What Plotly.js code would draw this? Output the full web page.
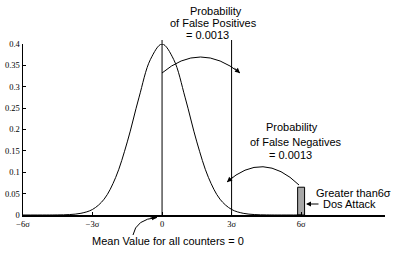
<!DOCTYPE html>
<html>
<head>
<meta charset="utf-8">
<script src="https://cdn.plot.ly/plotly-3.0.1.min.js"></script>
<style>html,body{margin:0;padding:0;background:#fff;}#chart{width:401px;height:255px;}</style>
</head>
<body>
<div id="chart"></div>
<script>
// ---- data ----
const curveX = [-6, -5, -4.5, -4, -3.5, -3, -2.5, -2, -1.5, -1, -0.5, 0, 0.5, 1, 1.5, 2, 2.5, 3, 3.5, 4, 4.5, 5, 6];
const curveY = [0, 0, 0.0002, 0.001, 0.004, 0.013, 0.037, 0.088, 0.171, 0.274, 0.364, 0.4, 0.364, 0.274, 0.171, 0.088, 0.037, 0.013, 0.004, 0.001, 0.0002, 0, 0];
const barX = [6];
const barY = [0.065];
const markerLines = [0, 3];           // vertical lines at mean and 3 sigma
const xTickVals = [-6, -3, 0, 3, 6];
const xTickText = ['\u22126\u03c3', '\u22123\u03c3', '0', '3\u03c3', '6\u03c3'];
const yTickVals = [0, 0.05, 0.1, 0.15, 0.2, 0.25, 0.3, 0.35, 0.4];
const yTickText = ['0', '0.05', '0.1', '0.15', '0.2', '0.25', '0.3', '0.35', '0.4'];

// ---- layout geometry (pixels) ----
const W = 401, H = 255, ML = 23, MR = 16, MT = 44, MB = 40;
const PW = W - ML - MR, PH = H - MT - MB;
const px = v => (v - ML) / PW;             // pixel x -> paper
const py = v => (H - MB - v) / PH;         // pixel y -> paper

const sans = {family: 'Liberation Sans, Arial, sans-serif', size: 11, color: '#000'};
const serif = {family: 'Liberation Serif, Times New Roman, serif', size: 8.5, color: '#000'};

function txt(t, x, y, xanchor) {
  return {text: t, xref: 'paper', yref: 'paper', x: px(x), y: py(y), xanchor: xanchor || 'center',
          yanchor: 'middle', showarrow: false, font: sans};
}
function head(x, y, dx, dy) {
  return {text: '', xref: 'paper', yref: 'paper', x: px(x), y: py(y), ax: dx, ay: dy,
          showarrow: true, arrowhead: 2, arrowsize: 1, arrowwidth: 1, arrowcolor: '#000', standoff: 0};
}
function curve(x0, y0, cx, cy, x1, y1) {
  return {type: 'path', xref: 'paper', yref: 'paper',
          path: 'M' + px(x0) + ',' + py(y0) + ' Q' + px(cx) + ',' + py(cy) + ' ' + px(x1) + ',' + py(y1),
          line: {color: '#000', width: 1}};
}

const traces = [
  {x: curveX, y: curveY, type: 'scatter', mode: 'lines', line: {color: '#000', width: 1, shape: 'spline'},
   cliponaxis: false, hoverinfo: 'skip'},
  {x: barX, y: barY, type: 'bar', width: 0.3, marker: {color: '#a8a8a8', line: {color: '#000', width: 1}},
   cliponaxis: false, hoverinfo: 'skip'}
];

const shapes = markerLines.map(v => ({type: 'line', xref: 'x', yref: 'paper', x0: v, x1: v, y0: 0, y1: py(40),
  line: {color: '#000', width: 1}}));
shapes.push(curve(162, 73, 200, 41, 240, 73));
shapes.push(curve(299, 185, 263, 150, 227, 182));
shapes.push(curve(133, 235, 136, 219, 157, 217.5));

const annotations = [
  txt('Probability', 216, 11),
  txt('of False Positives', 213, 23.5),
  txt('= 0.0013', 207, 35),
  txt('Probability', 292, 127),
  txt('of False Negatives', 296, 141.5),
  txt('= 0.0013', 290, 155),
  txt('Greater than6\u03c3', 314, 193, 'left'),
  txt('Dos Attack', 321, 204, 'left'),
  txt('Mean Value for all counters = 0', 168, 241),
  head(240, 73, -7, -6),
  head(227, 182, 7, -6),
  head(157, 217.5, -8, 0.5),
  head(306, 204, 14, 0)
];

const layout = {
  width: W, height: H,
  margin: {l: ML, r: MR, t: MT, b: MB, pad: 0},
  paper_bgcolor: '#fff', plot_bgcolor: '#fff',
  showlegend: false,
  bargap: 0,
  xaxis: {range: [-6, 9.62], showgrid: false, zeroline: false, showline: true, linecolor: '#000', linewidth: 1.5,
          ticks: 'inside', ticklen: 3, tickcolor: '#000', tickwidth: 1, tickvals: xTickVals, ticktext: xTickText,
          tickfont: serif, fixedrange: true},
  yaxis: {range: [0, 0.4], showgrid: false, zeroline: false, showline: true, linecolor: '#000', linewidth: 1.5,
          ticks: 'inside', ticklen: 3, tickcolor: '#000', tickwidth: 1, tickvals: yTickVals, ticktext: yTickText,
          tickfont: serif, fixedrange: true},
  shapes: shapes,
  annotations: annotations
};

Plotly.newPlot('chart', traces, layout, {displayModeBar: false, staticPlot: true});
</script>
</body>
</html>
